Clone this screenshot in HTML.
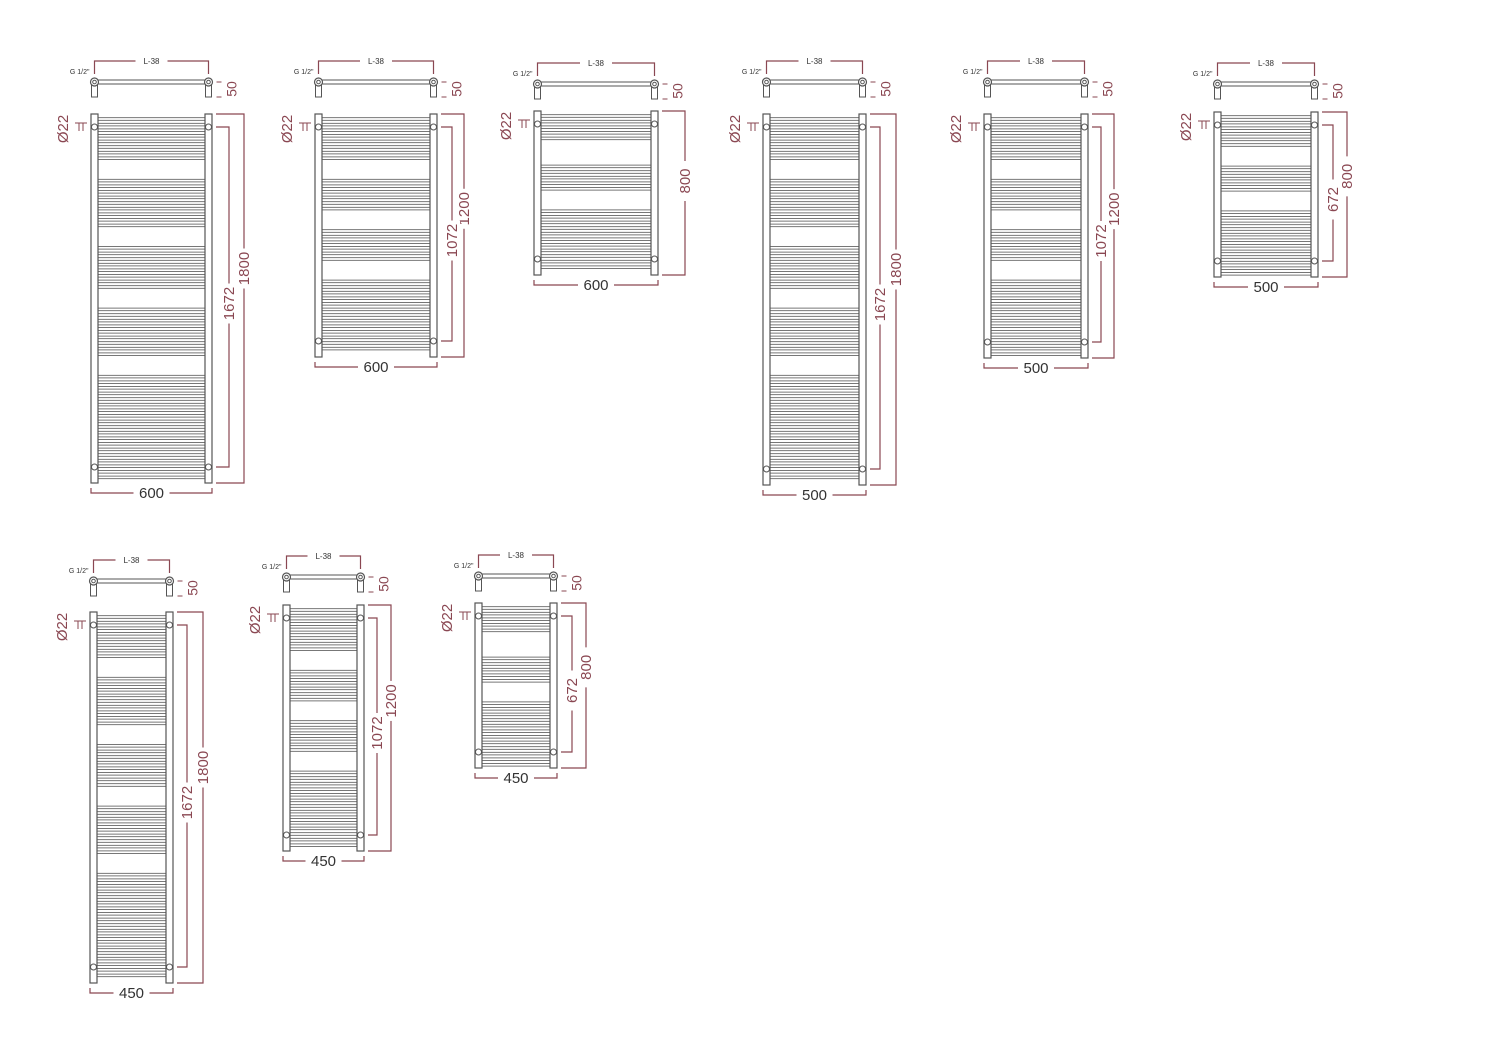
<!DOCTYPE html>
<html><head><meta charset="utf-8"><style>
html,body{margin:0;padding:0;background:#fff}
svg{display:block}
text{font-family:"Liberation Sans",sans-serif}
</style></head><body>
<svg id="s" width="1500" height="1053" viewBox="0 0 1500 1053" xmlns="http://www.w3.org/2000/svg"></svg>
<script>
const s=document.getElementById('s');let o='';
const G='#555',M='#8a4752';
function rad(L,R,T,B,topY,wLab,inX,outX,inLab,outLab,gaps){
  const cl=L+3.5,cr=R-3.5,py=topY+21;
  o+=`<polyline points="${cl},${py-8} ${cl},${topY} ${cl+45},${topY}" fill="none" stroke="${M}" stroke-width="1.2"/>`;
  o+=`<polyline points="${cr-45},${topY} ${cr},${topY} ${cr},${py-8}" fill="none" stroke="${M}" stroke-width="1.2"/>`;
  o+=`<line x1="${cl+45}" y1="${topY}" x2="${cr-45}" y2="${topY}" stroke="${M}" stroke-width="1.2"/>`;
  o+=`<rect x="${(cl+cr)/2-16}" y="${topY-6}" width="32" height="12" fill="#fff"/>`;
  o+=`<text x="${(cl+cr)/2}" y="${topY+3}" font-size="8" text-anchor="middle" fill="#333">L-38</text>`;
  o+=`<text x="${cl-5}" y="${topY+13}" font-size="7" text-anchor="end" fill="#333">G 1/2"</text>`;
  o+=`<line x1="${cl}" y1="${py-2}" x2="${cr}" y2="${py-2}" stroke="${G}"/><line x1="${cl}" y1="${py+2}" x2="${cr}" y2="${py+2}" stroke="${G}"/>`;
  for(const c of [cl,cr]){o+=`<rect x="${c-3}" y="${py}" width="6" height="15" fill="#fff" stroke="${G}"/><circle cx="${c}" cy="${py}" r="4" fill="#fff" stroke="${G}" stroke-width="1.2"/><circle cx="${c}" cy="${py}" r="1.8" fill="none" stroke="${G}"/>`;}
  o+=`<line x1="${cr+8}" y1="${py}" x2="${cr+13}" y2="${py}" stroke="${M}"/><line x1="${cr+8}" y1="${py+15}" x2="${cr+13}" y2="${py+15}" stroke="${M}"/>`;
  o+=`<text transform="translate(${cr+28},${py+7}) rotate(-90)" font-size="14" text-anchor="middle" fill="${M}">50</text>`;
  const h=B-T;
  for(let y=T+5;y<B-3;y+=5.6){
    const r=y-T;let skip=false;for(const g of gaps){if(r>g*h&&r<g*h+17)skip=true;}
    if(skip)continue;
    o+=`<rect x="${L+7}" y="${y-1.3}" width="${R-L-14}" height="2.6" fill="#fff" stroke="${G}" stroke-width="0.8"/>`;
  }
  o+=`<rect x="${L}" y="${T}" width="7" height="${h}" fill="#fff" stroke="${G}" stroke-width="1.2"/>`;
  o+=`<rect x="${R-7}" y="${T}" width="7" height="${h}" fill="#fff" stroke="${G}" stroke-width="1.2"/>`;
  const iy1=T+13,iy2=B-16;
  for(const c of [cl,cr])for(const y of [iy1,iy2])o+=`<circle cx="${c}" cy="${y}" r="3" fill="#fff" stroke="${G}"/>`;
  o+=`<text transform="translate(${L-23},${iy1+2}) rotate(-90)" font-size="15" text-anchor="middle" fill="${M}">Ø22</text>`;
  o+=`<line x1="${L-12}" y1="${iy1-4}" x2="${L-12}" y2="${iy1+4}" stroke="${M}"/><line x1="${L-8}" y1="${iy1-4}" x2="${L-8}" y2="${iy1+4}" stroke="${M}"/>`;
  o+=`<line x1="${L-16}" y1="${iy1-4}" x2="${L-4}" y2="${iy1-4}" stroke="${M}"/>`;
  const wy=B+10;
  o+=`<polyline points="${L},${wy-5} ${L},${wy} ${R},${wy} ${R},${wy-5}" fill="none" stroke="${M}" stroke-width="1.2"/>`;
  o+=`<rect x="${(L+R)/2-18}" y="${wy-8}" width="36" height="16" fill="#fff"/>`;
  o+=`<text x="${(L+R)/2}" y="${wy+5}" font-size="15" text-anchor="middle" fill="#333">${wLab}</text>`;
  const mid=(T+B)/2;
  const oy=inX?mid-Math.min(30,h*0.11):mid-12, iy=mid+5;
  o+=`<polyline points="${R+4},${T} ${outX},${T} ${outX},${B} ${R+4},${B}" fill="none" stroke="${M}" stroke-width="1.2"/>`;
  o+=`<rect x="${outX-8}" y="${oy-20}" width="16" height="40" fill="#fff"/>`;
  o+=`<text transform="translate(${outX+5},${oy}) rotate(-90)" font-size="15" text-anchor="middle" fill="${M}">${outLab}</text>`;
  if(inX){
    o+=`<polyline points="${R+4},${iy1} ${inX},${iy1} ${inX},${iy2} ${R+4},${iy2}" fill="none" stroke="${M}" stroke-width="1.2"/>`;
    o+=`<rect x="${inX-8}" y="${iy-20}" width="16" height="40" fill="#fff"/>`;
    o+=`<text transform="translate(${inX+5},${iy}) rotate(-90)" font-size="15" text-anchor="middle" fill="${M}">${inLab}</text>`;
  }
}
const g18=[0.13,0.31,0.48,0.66],g12=[0.2,0.4,0.6],g8=[0.2,0.49];
rad(91,212,114,483,61,'600',229,244,'1672','1800',g18);
rad(315,437,114,357,61,'600',452,464,'1072','1200',g12);
rad(534,658,111,275,63,'600',0,685,'','800',g8);
rad(763,866,114,485,61,'500',880,896,'1672','1800',g18);
rad(984,1088,114,358,61,'500',1101,1114,'1072','1200',g12);
rad(1214,1318,112,277,63,'500',1333,1347,'672','800',g8);
rad(90,173,612,983,560,'450',187,203,'1672','1800',g18);
rad(283,364,605,851,556,'450',377,391,'1072','1200',g12);
rad(475,557,603,768,555,'450',572,586,'672','800',g8);
s.innerHTML=o;
</script>
</body></html>
